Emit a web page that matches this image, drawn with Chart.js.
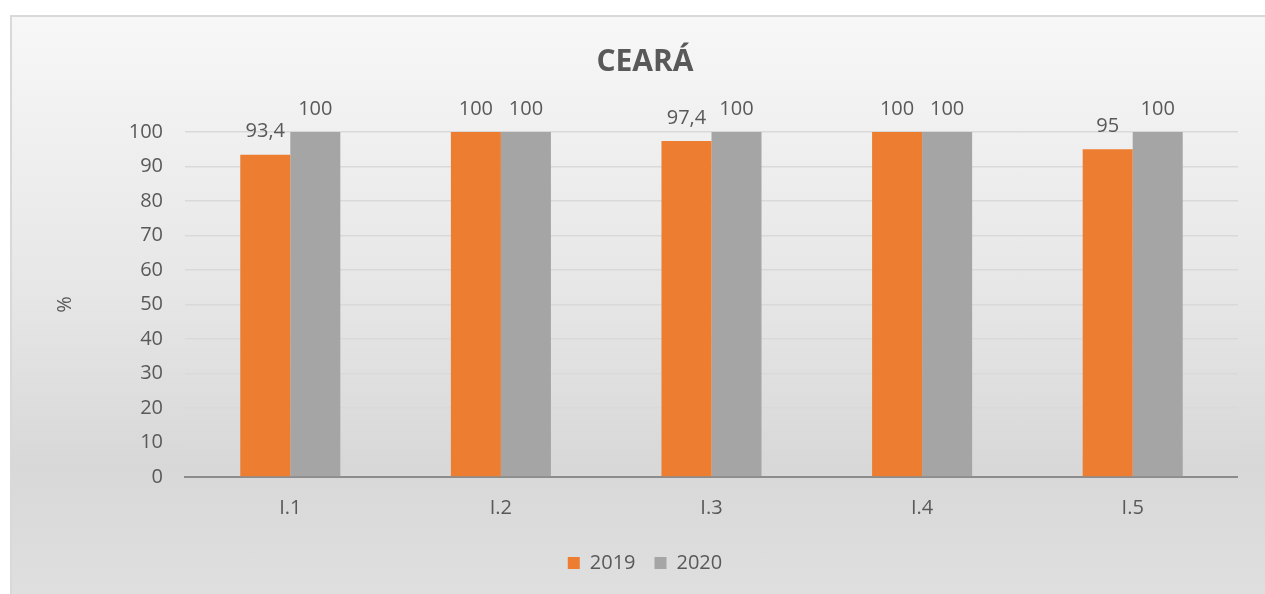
<!DOCTYPE html>
<html>
<head>
<meta charset="utf-8">
<script src="https://cdn.jsdelivr.net/npm/chart.js@4.4.1/dist/chart.umd.min.js"></script>
<style>
  html, body { margin: 0; padding: 0; background: #fff; overflow: hidden; }
  #box {
    position: absolute; left: 10px; top: 15px; width: 1300px; height: 620px;
    border-left: 2px solid #d9d9d9; border-top: 2px solid #d9d9d9;
    background: linear-gradient(to bottom, #f7f7f7 0%, #e6e6e6 45%, #d8d8d8 72%, #e1e1e1 100%);
  }
  #chart { position: absolute; left: 0; top: 0; }
</style>
</head>
<body>
<div id="box"><canvas id="chart" width="1226" height="577"></canvas></div>
<script>
const categories = ['I.1', 'I.2', 'I.3', 'I.4', 'I.5'];
const values2019 = [93.4, 100, 97.4, 100, 95];
const values2020 = [100, 100, 100, 100, 100];
const yTicks = [0, 10, 20, 30, 40, 50, 60, 70, 80, 90, 100];

const textColor = '#595959';
const fontFamily = '"Open Sans", "Noto Sans", sans-serif';

// etiquetas de valor acima das barras
const valueLabels = {
  id: 'valueLabels',
  afterDatasetsDraw(chart) {
    const ctx = chart.ctx;
    ctx.save();
    ctx.font = '20px ' + fontFamily;
    ctx.fillStyle = textColor;
    ctx.textAlign = 'center';
    ctx.textBaseline = 'middle';
    chart.data.datasets.forEach((ds, i) => {
      chart.getDatasetMeta(i).data.forEach((bar, j) => {
        const txt = String(ds.data[j]).replace('.', ',');
        ctx.fillText(txt, bar.x, bar.y - 23);
      });
    });
    ctx.restore();
  }
};

const ctx = document.getElementById('chart').getContext('2d');
new Chart(ctx, {
  type: 'bar',
  data: {
    labels: categories,
    datasets: [
      { label: '2019', data: values2019, backgroundColor: '#ED7D31' },
      { label: '2020', data: values2020, backgroundColor: '#A5A5A5' }
    ]
  },
  options: {
    responsive: false,
    animation: false,
    layout: { padding: { left: 40, right: 0, top: 0, bottom: 11 } },
    datasets: { bar: { categoryPercentage: 0.475, barPercentage: 1 } },
    plugins: {
      title: {
        display: true,
        text: 'CEARÁ',
        color: textColor,
        font: { family: fontFamily, size: 30, weight: 'bold' },
        padding: { top: 27, bottom: 52 }
      },
      legend: {
        position: 'bottom',
        labels: {
          color: textColor,
          font: { family: fontFamily, size: 20 },
          boxWidth: 12,
          boxHeight: 12,
          padding: 19
        }
      },
      tooltip: { enabled: false }
    },
    scales: {
      x: {
        grid: { display: false, drawTicks: false },
        border: { color: '#8c8c8c', width: 2 },
        ticks: { color: textColor, font: { family: fontFamily, size: 20 }, padding: 19 },
        afterFit(scale) { scale.height = 57; }
      },
      y: {
        min: 0,
        max: 100,
        afterBuildTicks(scale) { scale.ticks = yTicks.map(v => ({ value: v })); },
        grid: { color: '#d9d9d9', lineWidth: 1.5, drawTicks: false },
        border: { display: false },
        ticks: { color: textColor, font: { family: fontFamily, size: 20 }, padding: 22 },
        title: {
          display: true,
          text: '%',
          color: textColor,
          font: { family: fontFamily, size: 20 },
          padding: { top: 1, bottom: 0 }
        },
        afterFit(scale) { scale.width = 133; }
      }
    }
  },
  plugins: [valueLabels]
});
</script>
</body>
</html>
